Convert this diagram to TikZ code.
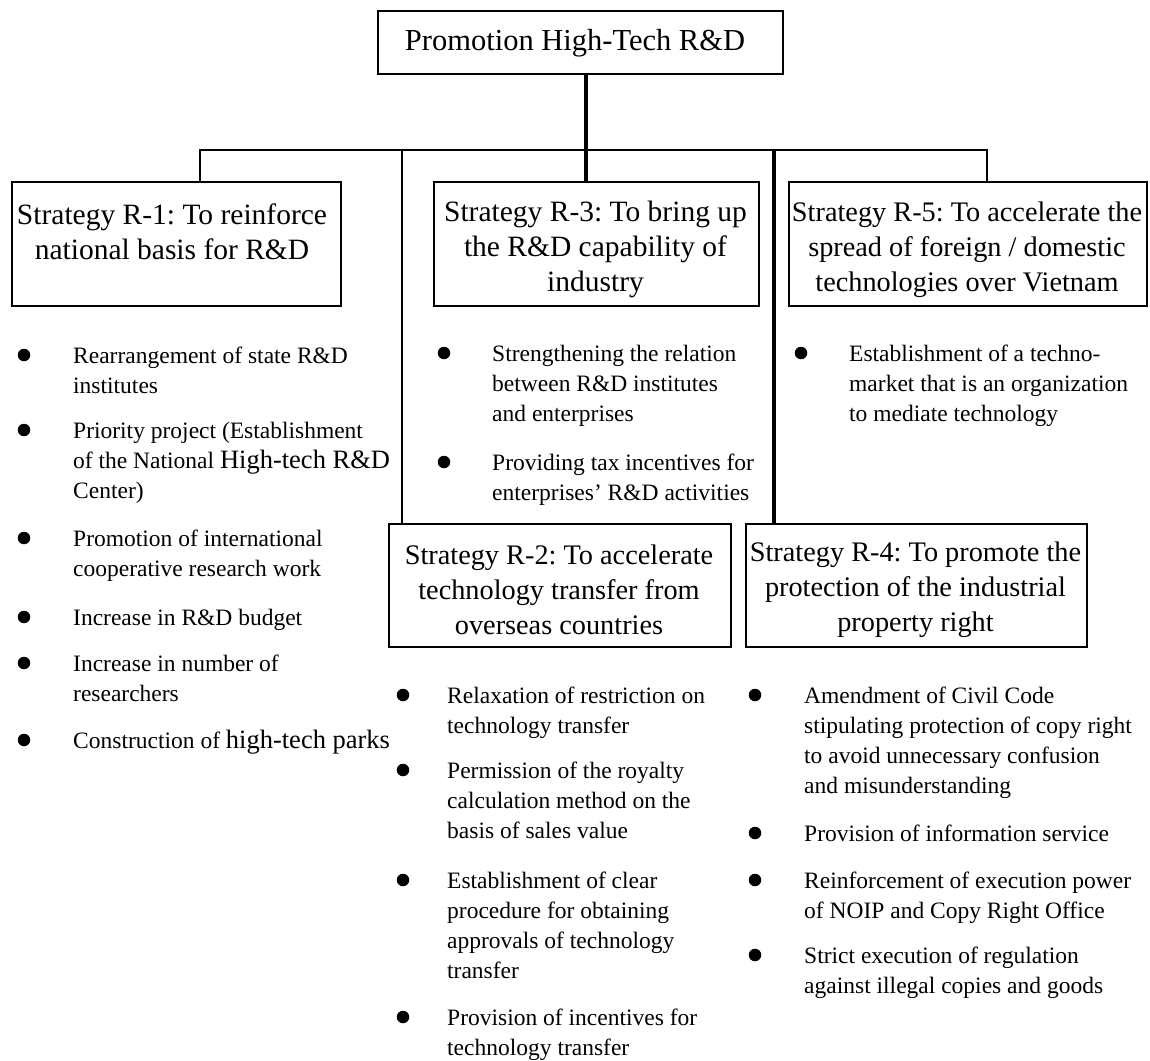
\documentclass[tikz,border=0pt]{standalone}
\usepackage{fontspec}
\setmainfont{Liberation Serif}
\frenchspacing
\newcommand{\bsz}{\fontsize{23.5}{30}\selectfont}
\newcommand{\bgp}{\fontsize{26.5}{30}\selectfont}
\tikzset{
  frame/.style={draw, line width=2pt, inner sep=0pt, anchor=north west},
  btext/.style={align=center, inner sep=0pt, font=\fontsize{28.3}{35}\selectfont},
  bbtext/.style={align=center, inner sep=0pt, font=\fontsize{29.5}{35}\selectfont},
  ttext/.style={align=center, inner sep=0pt, font=\fontsize{30.5}{36}\selectfont},
  dot/.style={circle, fill=black, inner sep=0pt, minimum size=12.5pt},
  bitem/.style={anchor=north west, align=left, inner sep=0pt, font=\bsz},
  conn/.style={line width=2pt},
  thickconn/.style={line width=3.2pt}
}
\begin{document}
\begin{tikzpicture}[x=1pt, y=-1pt]
\useasboundingbox (0,0) rectangle (1150,1060);
\fill[white] (0,0) rectangle (1150,1060);

% ---- boxes ----
\node[frame, minimum width=405pt, minimum height=63pt] (top) at (377,10) {};
\node[ttext] (topt) at (575,43) {Promotion High-Tech R\&D};

\node[frame, minimum width=329pt, minimum height=124pt] (r1) at (11,181) {};
\node[bbtext] (r1t) at (172,232) {Strategy R-1: To reinforce\\national basis for R\&D};

\node[frame, minimum width=325pt, minimum height=124pt] (r3) at (433,181) {};
\node[bbtext] (r3t) at (595.5,249.5) {Strategy R-3: To bring up\\the R\&D capability of\\industry};

\node[frame, minimum width=358pt, minimum height=124pt] (r5) at (788,181) {};
\node[btext] (r5t) at (967,249.5) {Strategy R-5: To accelerate the\\spread of foreign / domestic\\technologies over Vietnam};

\node[frame, minimum width=342pt, minimum height=123pt] (r2) at (388,523) {};
\node[btext] (r2t) at (559,589.5) {Strategy R-2: To accelerate\\technology transfer from\\overseas countries};

\node[frame, minimum width=341pt, minimum height=123pt] (r4) at (745,523) {};
\node[btext] (r4t) at (915.5,589.5) {Strategy R-4: To promote the\\protection of the industrial\\property right};

% ---- connectors ----
\coordinate (h1) at (200,150);
\coordinate (h2) at (402,150);
\coordinate (h3) at (586,150);
\coordinate (h4) at (774,150);
\coordinate (h5) at (987,150);
\draw[conn] (r1.north -| h1) -- (h1) -- (h5) -- (r5.north -| h5);
\draw[thickconn] (top.south -| h3) -- (r3.north -| h3);
\draw[conn] (h2) -- (r2.north -| h2);
\draw[thickconn] (h4) -- (r4.north -| h4);

% ---- R-1 list ----
\node[dot] (d1a) at (24,355) {};
\node[bitem] (t1a) at (73,342) {\strut Rearrangement of state R\&D\\institutes};
\node[dot] (d1b) at (24,430) {};
\node[bitem] (t1b) at (73,417) {\strut Priority project (Establishment\\of the National {\bgp High-tech R\&D}\\Center)};
\node[dot] (d1c) at (24,538) {};
\node[bitem] (t1c) at (73,525) {\strut Promotion of international\\cooperative research work};
\node[dot] (d1d) at (24,617) {};
\node[bitem] (t1d) at (73,604) {\strut Increase in R\&D budget};
\node[dot] (d1e) at (24,663) {};
\node[bitem] (t1e) at (73,650) {\strut Increase in number of\\researchers};
\node[dot] (d1f) at (24,740) {};
\node[bitem] (t1f) at (73,727) {\strut Construction of {\bgp high-tech parks}};

% ---- R-3 list ----
\node[dot] (d3a) at (444,353) {};
\node[bitem] (t3a) at (492,340) {\strut Strengthening the relation\\between R\&D institutes\\and enterprises};
\node[dot] (d3b) at (444,462) {};
\node[bitem] (t3b) at (492,449) {\strut Providing tax incentives for\\enterprises' R\&D activities};

% ---- R-5 list ----
\node[dot] (d5a) at (801,353) {};
\node[bitem] (t5a) at (849,340) {\strut Establishment of a techno-\\market that is an organization\\to mediate technology};

% ---- R-2 list ----
\node[dot] (d2a) at (403,695) {};
\node[bitem] (t2a) at (447,682) {\strut Relaxation of restriction on\\technology transfer};
\node[dot] (d2b) at (403,770) {};
\node[bitem] (t2b) at (447,757) {\strut Permission of the royalty\\calculation method on the\\basis of sales value};
\node[dot] (d2c) at (403,880) {};
\node[bitem] (t2c) at (447,867) {\strut Establishment of clear\\procedure for obtaining\\approvals of technology\\transfer};
\node[dot] (d2d) at (403,1017) {};
\node[bitem] (t2d) at (447,1004) {\strut Provision of incentives for\\technology transfer};

% ---- R-4 list ----
\node[dot] (d4a) at (755,695) {};
\node[bitem] (t4a) at (804,682) {\strut Amendment of Civil Code\\stipulating protection of copy right\\to avoid unnecessary confusion\\and misunderstanding};
\node[dot] (d4b) at (755,833) {};
\node[bitem] (t4b) at (804,820) {\strut Provision of information service};
\node[dot] (d4c) at (755,880) {};
\node[bitem] (t4c) at (804,867) {\strut Reinforcement of execution power\\of NOIP and Copy Right Office};
\node[dot] (d4d) at (755,955) {};
\node[bitem] (t4d) at (804,942) {\strut Strict execution of regulation\\against illegal copies and goods};
\end{tikzpicture}
\end{document}
